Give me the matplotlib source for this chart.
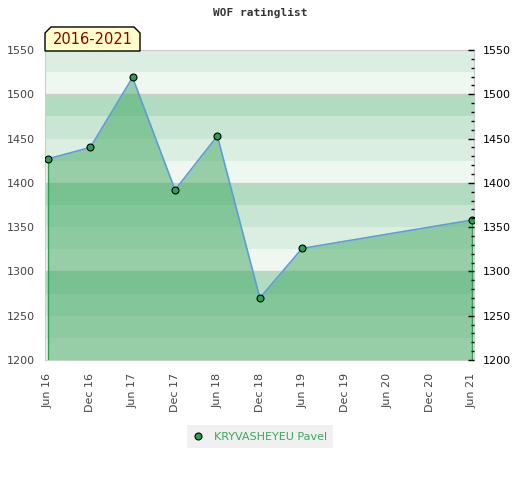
import datetime as dt
import matplotlib
matplotlib.use("Agg")
import matplotlib.pyplot as plt
import matplotlib.dates as mdates
from matplotlib.patches import Polygon
from matplotlib.ticker import MultipleLocator

# rating history
dates = [dt.date(2016, 6, 1), dt.date(2016, 12, 1), dt.date(2017, 6, 1),
         dt.date(2017, 12, 1), dt.date(2018, 6, 1), dt.date(2018, 12, 1),
         dt.date(2019, 6, 1), dt.date(2021, 6, 1)]
ratings = [1427, 1440, 1519, 1392, 1453, 1270, 1326, 1358]
player = "KRYVASHEYEU Pavel"
period = "2016-2021"
y_min, y_max = 1200, 1550

fig = plt.figure(figsize=(5.2, 4.8), dpi=100)
ax = fig.add_axes([45 / 520, 1 - 360 / 480, 429 / 520, 310 / 480])

# striped background, 4 shades repeating every 100 points
shades = ["#eff7f1", "#dbeee2", "#c8e6d3", "#b2dcc1"]
for i, lo in enumerate(range(y_min, y_max, 25)):
    ax.axhspan(lo, lo + 25, color=shades[i % 4], lw=0, zorder=0)
for y in range(1300, y_max, 100):
    ax.axhline(y, color="#cccccc", lw=1, zorder=0.5)

ax.fill_between(dates, ratings, y_min, color="#40a760", alpha=0.5, lw=0, zorder=1)
ax.vlines([dates[0], dates[-1]], y_min, [ratings[0], ratings[-1]],
          color="#2e9e50", lw=1, zorder=2)
ax.plot(dates, ratings, color="#5b9fd6", lw=1.2, zorder=3)
ax.plot(dates, ratings, ls="none", marker="o", ms=5, mfc="#2e9e50",
        mec="black", mew=0.8, zorder=4, label=player)

ax.set_ylim(y_min, y_max)
ax.set_xlim(dt.date(2016, 5, 20), dt.date(2021, 6, 10))

ax.xaxis.set_major_locator(mdates.MonthLocator(bymonth=[6, 12]))
ax.xaxis.set_major_formatter(mdates.DateFormatter("%b %y"))
ax.tick_params(axis="x", length=0, pad=9, labelsize=8, labelcolor="#444444",
               labelrotation=90)

ax.yaxis.set_major_locator(MultipleLocator(50))
ax.tick_params(axis="y", which="both", left=False, right=False, length=0,
               pad=7, labelsize=8, labelcolor="#444444")

for s in ax.spines.values():
    s.set_color("#cccccc")

# right-hand axis with ticks
ax2 = ax.twinx()
ax2.set_ylim(y_min, y_max)
ax2.yaxis.set_major_locator(MultipleLocator(50))
ax2.yaxis.set_minor_locator(MultipleLocator(10))
ax2.tick_params(axis="y", which="major", direction="in", length=4, width=1,
                pad=6, labelsize=8, labelcolor="black", color="black")
ax2.tick_params(axis="y", which="minor", direction="in", length=2.5, width=1,
                color="black")
for s in ax2.spines.values():
    s.set_visible(False)

fig.text(0.5, 1 - 13 / 480, "WOF ratinglist", ha="center", va="center",
         family="DejaVu Sans Mono", weight="bold", fontsize=8, color="#333333")

# period label box with clipped top corners
pts = [(45, 51), (45, 33), (51, 27), (134, 27), (140, 33), (140, 51)]
box = Polygon([(x / 520, 1 - y / 480) for x, y in pts], closed=True,
              transform=fig.transFigure, facecolor="#ffffcc",
              edgecolor="black", lw=1, zorder=10)
fig.patches.append(box)
fig.text(92.5 / 520, 1 - 40 / 480, period, ha="center", va="center",
         fontsize=10.5, color="#8b0000", zorder=11)

leg = ax.legend(loc="center", bbox_to_anchor=(0.5, 1 - 436.5 / 480),
                bbox_transform=fig.transFigure, frameon=True, fancybox=False,
                facecolor="#f0f0f0", edgecolor="none", framealpha=1,
                fontsize=8, handlelength=1, handletextpad=0.9,
                borderpad=0.55)
for t in leg.get_texts():
    t.set_color("#3aa85a")

fig.savefig("out.png", dpi=100)
